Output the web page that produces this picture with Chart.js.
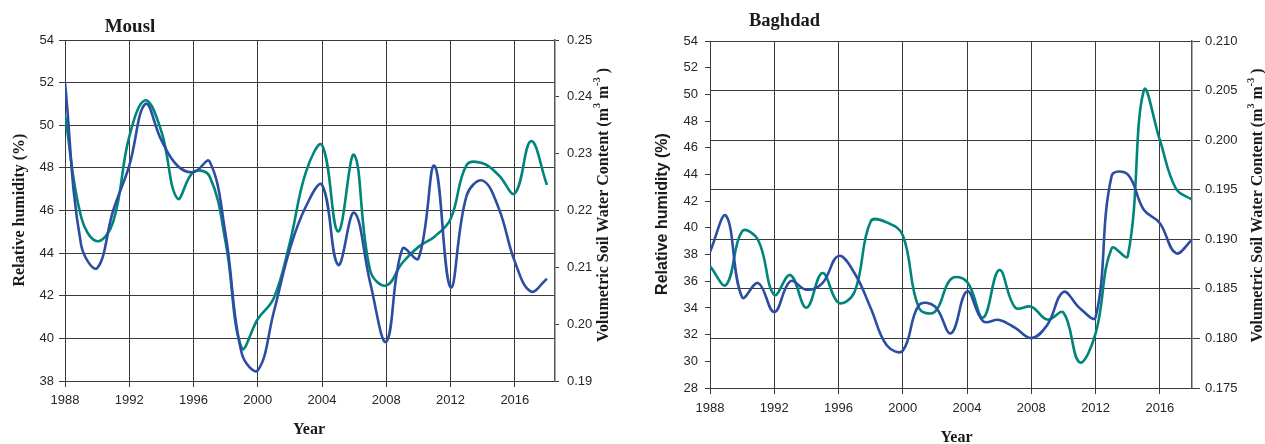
<!DOCTYPE html>
<html><head><meta charset="utf-8">
<script src="https://cdn.jsdelivr.net/npm/chart.js@4.4.0/dist/chart.umd.min.js"></script>
<style>
html,body{margin:0;padding:0;background:#fff;width:1265px;height:444px;overflow:hidden}
canvas{position:absolute;top:0}
#c1{left:0}
#c2{left:632px}
</style></head><body>
<canvas id="c1" width="632" height="444"></canvas>
<canvas id="c2" width="633" height="444"></canvas>
<script>
const years = [1988,1989,1990,1991,1992,1993,1994,1995,1996,1997,1998,1999,2000,2001,2002,2003,
               2004,2005,2006,2007,2008,2009,2010,2011,2012,2013,2014,2015,2016,2017,2018];
const mouslHumidity = [52.0,44.4,43.3,46.0,48.1,51.0,49.3,48.1,47.8,48.3,44.85,39.3,38.5,41.25,44.2,46.2,
                       47.2,43.45,45.9,42.6,39.85,44.2,43.75,48.1,42.4,46.7,47.4,46.1,43.6,42.2,42.8];
const mouslSoilWater = [0.2368,0.2189,0.2146,0.2180,0.2330,0.2394,0.2339,0.2221,0.2268,0.2260,0.2144,0.1958,0.2009,0.2046,0.2144,0.2268,
                        0.2315,0.2163,0.2298,0.2094,0.2068,0.2108,0.2136,0.2154,0.2185,0.2280,0.2283,0.2262,0.2230,0.2322,0.2245];
const baghdadHumidity = [38.2,40.9,34.8,35.86,33.69,36.0,35.36,35.86,37.9,36.6,34.0,31.2,30.8,34.2,34.1,32.1,
                         35.24,33.0,33.1,32.5,31.74,32.74,35.2,34.0,33.3,43.9,44.0,41.35,40.35,38.1,39.1];
const baghdadSoilWater = [0.1873,0.1854,0.1908,0.1899,0.1844,0.1864,0.1831,0.1866,0.1836,0.1847,0.1918,0.1917,0.1904,0.1831,0.1827,0.1860,
                          0.1857,0.1821,0.1869,0.1831,0.1832,0.1819,0.1826,0.1776,0.1805,0.1891,0.1883,0.2050,0.2000,0.1951,0.1940];
const yearTicks = [1988,1992,1996,2000,2004,2008,2012,2016];
const mouslHumidityTicks = [38,40,42,44,46,48,50,52,54];
const mouslSoilTicks = [0.19,0.20,0.21,0.22,0.23,0.24,0.25];
const baghdadHumidityTicks = [28,30,32,34,36,38,40,42,44,46,48,50,52,54];
const baghdadSoilTicks = [0.175,0.180,0.185,0.190,0.195,0.200,0.205,0.210];

const BLUE = '#2b4ea3';
const TEAL = '#00857a';
const GRID = '#3a3a3a';
const SERIF = '"Liberation Serif","Times New Roman",serif';
const SANS = '"Liberation Sans",Arial,sans-serif';

function pts(xs, ys){ return xs.map((x,i)=>({x:x, y:ys[i]})); }

// draw rich text (with superscripts) centred at (cx,cy), rotated by rot
function drawRich(ctx, segs, cx, cy, rot, size, family, weight){
  ctx.save();
  const main = weight+' '+size+'px '+family;
  const sup = weight+' '+Math.round(size*0.62)+'px '+family;
  let total = 0;
  segs.forEach(s=>{ ctx.font = s.sup?sup:main; s.w = ctx.measureText(s.t).width; total += s.w; });
  ctx.translate(cx, cy);
  ctx.rotate(rot);
  ctx.fillStyle = '#1a1a1a';
  ctx.textBaseline = 'alphabetic';
  ctx.textAlign = 'left';
  let x = -total/2;
  const base = size*0.35;
  segs.forEach(s=>{
    ctx.font = s.sup?sup:main;
    ctx.fillText(s.t, x, s.sup ? base - size*0.45 : base);
    x += s.w;
  });
  ctx.restore();
}

function textPlugin(items){
  return {
    id:'texts',
    afterDraw(chart){
      const ctx = chart.ctx;
      items.forEach(it=>drawRich(ctx, it.segs, it.x, it.y, it.rot||0, it.size, it.family, 'bold'));
    }
  };
}

function makeChart(canvas, cfg){
  const fixTicks = arr => (scale)=>{ scale.ticks = arr.map(v=>({value:v})); };
  return new Chart(canvas, {
    type:'line',
    data:{ datasets:[
      {data:pts(years, cfg.rh), yAxisID:'y', borderColor:BLUE, borderWidth:2.6, pointRadius:0, tension:0.4, fill:false},
      {data:pts(years, cfg.swc), yAxisID:'y1', borderColor:TEAL, borderWidth:2.6, pointRadius:0, tension:0.4, fill:false}
    ]},
    options:{
      responsive:false, animation:false, devicePixelRatio:1,
      layout:{padding:{top:cfg.top, left:0, right:0, bottom:0}},
      plugins:{legend:{display:false}, tooltip:{enabled:false}, title:{display:false}},
      scales:{
        x:{type:'linear', min:1988, max:cfg.xmax,
           afterBuildTicks:fixTicks(yearTicks),
           afterFit:(s)=>{s.height = cfg.xh;},
           grid:{color:GRID, lineWidth:1, drawTicks:true, tickLength:6, tickColor:GRID},
           border:{color:GRID, width:1},
           ticks:{color:'#262626', font:{family:SANS, size:13}, padding:cfg.xpad, maxRotation:0, autoSkip:false,
                  callback:(v)=>String(v)}},
        y:{type:'linear', position:'left', min:cfg.yMin, max:cfg.yMax,
           afterBuildTicks:fixTicks(cfg.yTicks),
           afterFit:(s)=>{s.width = cfg.lw;},
           grid:{color:GRID, lineWidth:1, drawOnChartArea:cfg.gridLeft, tickLength:cfg.ltl, tickColor:GRID},
           border:{color:GRID, width:1},
           ticks:{color:'#262626', font:{family:SANS, size:13}, padding:cfg.lpad, autoSkip:false,
                  callback:(v)=>String(v)}},
        y1:{type:'linear', position:'right', min:cfg.y1Min, max:cfg.y1Max,
           afterBuildTicks:fixTicks(cfg.y1Ticks),
           afterFit:(s)=>{s.width = cfg.rw;},
           grid:{color:GRID, lineWidth:1, drawOnChartArea:!cfg.gridLeft, tickLength:cfg.rtl, tickColor:GRID},
           border:{color:'#555', width:1.5},
           ticks:{color:'#262626', font:{family:SANS, size:13}, padding:cfg.rpad, autoSkip:false,
                  callback:(v)=>v.toFixed(cfg.dec)}}
      }
    },
    plugins:[textPlugin(cfg.texts)]
  });
}

const swcTitle = [{t:'Volumetric Soil Water Content (m'},{t:'3',sup:true},{t:' m'},{t:'-3',sup:true},{t:' )'}];

makeChart(document.getElementById('c1'), {
  rh:mouslHumidity, swc:mouslSoilWater, xmax:2018.5,
  yMin:38, yMax:54, yTicks:mouslHumidityTicks,
  y1Min:0.19, y1Max:0.25, y1Ticks:mouslSoilTicks, dec:2,
  top:40, xh:63, lw:65, rw:77, gridLeft:true,
  ltl:6, lpad:5, rtl:4, rpad:8, xpad:6,
  texts:[
    {segs:[{t:'Mousl'}], x:130, y:25, size:19, family:SERIF},
    {segs:[{t:'Relative humidity (%)'}], x:18, y:210, rot:-Math.PI/2, size:16, family:SERIF},
    {segs:swcTitle, x:602, y:205, rot:-Math.PI/2, size:16, family:SERIF},
    {segs:[{t:'Year'}], x:309, y:428, size:16, family:SERIF}
  ]
});

makeChart(document.getElementById('c2'), {
  rh:baghdadHumidity, swc:baghdadSoilWater, xmax:2018,
  yMin:28, yMax:54, yTicks:baghdadHumidityTicks,
  y1Min:0.175, y1Max:0.210, y1Ticks:baghdadSoilTicks, dec:3,
  top:41, xh:56, lw:78, rw:73, gridLeft:false,
  ltl:5, lpad:7, rtl:8, rpad:5, xpad:7,
  texts:[
    {segs:[{t:'Baghdad'}], x:152.5, y:20, size:18.5, family:SERIF},
    {segs:[{t:'Relative humidity (%)'}], x:29.5, y:214, rot:-Math.PI/2, size:16, family:SANS},
    {segs:swcTitle, x:624, y:205.5, rot:-Math.PI/2, size:16, family:SERIF},
    {segs:[{t:'Year'}], x:324.5, y:436, size:16, family:SERIF}
  ]
});
</script>
</body></html>
